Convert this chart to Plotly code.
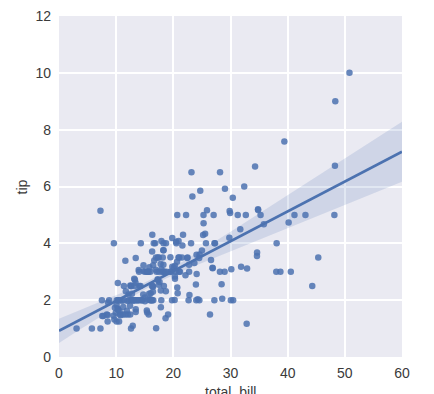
import numpy as np
import plotly.graph_objects as go

total_bill = [16.99,10.34,21.01,23.68,24.59,25.29,8.77,26.88,15.04,14.78,10.27,35.26,15.42,18.43,14.83,21.58,10.33,16.29,16.97,20.65,
17.92,20.29,15.77,39.42,19.82,17.81,13.37,12.69,21.70,19.65,9.55,18.35,15.06,20.69,17.78,24.06,16.31,16.93,18.69,31.27,
16.04,17.46,13.94,9.68,30.40,18.29,22.23,32.40,28.55,18.04,12.54,10.29,34.81,9.94,25.56,19.49,38.01,26.41,11.24,48.27,
20.29,13.81,11.02,18.29,17.59,20.08,16.45,3.07,20.23,15.01,12.02,17.07,26.86,25.28,14.73,10.51,17.92,27.20,22.76,17.29,
19.44,16.66,10.07,32.68,15.98,34.83,13.03,18.28,24.71,21.16,28.97,22.49,5.75,16.32,22.75,40.17,27.28,12.03,21.01,12.46,
11.35,15.38,44.30,22.42,20.92,15.36,20.49,25.21,18.24,14.31,14.00,7.25,38.07,23.95,25.71,17.31,29.93,10.65,12.43,24.08,
11.69,13.42,14.26,15.95,12.48,29.80,8.52,14.52,11.38,22.82,19.08,20.27,11.17,12.26,18.26,8.51,10.33,14.15,16.00,13.16,
17.47,34.30,41.19,27.05,16.43,8.35,18.64,11.87,9.78,7.51,14.07,13.13,17.26,24.55,19.77,29.85,48.17,25.00,13.39,16.49,
21.50,12.66,16.21,13.81,17.51,24.52,20.76,31.71,10.59,10.63,50.81,15.81,7.25,31.85,16.82,32.90,17.89,14.48,9.60,34.63,
34.65,23.33,45.35,23.17,40.55,20.69,20.90,30.46,18.15,23.10,15.69,19.81,28.44,15.48,16.58,7.56,10.34,43.11,13.00,13.51,
18.71,12.74,13.00,16.40,20.53,16.47,26.59,38.73,24.27,12.76,30.06,25.89,48.33,13.27,28.17,12.90,28.15,11.59,7.74,30.14,
12.16,13.42,8.58,15.98,13.42,16.27,10.09,20.45,13.28,22.12,24.01,15.69,11.61,10.77,15.53,10.07,12.60,32.83,35.83,29.03,
27.18,22.67,17.82,18.78]
tip = [1.01,1.66,3.50,3.31,3.61,4.71,2.00,3.12,1.96,3.23,1.71,5.00,1.57,3.00,3.02,3.92,1.67,3.71,3.50,3.35,
4.08,2.75,2.23,7.58,3.18,2.34,2.00,2.00,4.30,3.00,1.45,2.50,3.00,2.45,3.27,3.60,2.00,3.07,2.31,5.00,
2.24,2.54,3.06,1.32,5.60,3.00,5.00,6.00,2.05,3.00,2.50,2.60,5.20,1.56,4.34,3.51,3.00,1.50,1.76,6.73,
3.21,2.00,1.98,3.76,2.64,3.15,2.47,1.00,2.01,2.09,1.97,3.00,3.14,5.00,2.20,1.25,3.08,4.00,3.00,2.71,
3.00,3.40,1.83,5.00,2.03,5.17,2.00,4.00,5.85,3.00,3.00,3.50,1.00,4.30,3.25,4.73,4.00,1.50,3.00,1.50,
2.50,3.00,2.50,3.48,4.08,1.64,4.06,4.29,3.76,4.00,3.00,1.00,4.00,2.55,4.00,3.50,5.07,1.50,1.80,2.92,
2.31,1.68,2.50,2.00,2.52,4.20,1.48,2.00,2.00,2.18,1.50,2.83,1.50,2.00,3.25,1.25,2.00,2.00,2.00,2.75,
3.50,6.70,5.00,5.00,2.30,1.50,1.36,1.63,1.73,2.00,2.50,2.00,2.74,2.00,2.00,5.14,5.00,3.75,2.61,2.00,
3.50,2.50,2.00,2.00,3.00,3.48,2.24,4.50,1.61,2.00,10.00,3.16,5.15,3.18,4.00,3.11,2.00,2.00,4.00,3.55,
3.68,5.65,3.50,6.50,3.00,5.00,3.50,2.00,3.50,4.00,1.50,4.19,2.56,2.02,4.00,1.44,2.00,5.00,2.00,2.00,
4.00,2.01,2.00,2.50,4.00,3.23,3.41,3.00,2.03,2.23,2.00,5.16,9.00,2.50,6.50,1.10,3.00,1.50,1.44,3.09,
2.20,3.48,1.92,3.00,1.58,2.50,2.00,3.00,2.72,2.88,2.00,3.00,3.39,1.47,3.00,1.25,1.00,1.17,4.67,5.92,
2.00,2.00,1.75,3.00]

x_ticks = [0, 10, 20, 30, 40, 50, 60]
y_ticks = [0, 2, 4, 6, 8, 10, 12]

x = np.array(total_bill)
y = np.array(tip)
X = np.column_stack([np.ones_like(x), x])
XtX_inv = np.linalg.inv(X.T @ X)
beta = XtX_inv @ X.T @ y
resid = y - X @ beta
h = np.einsum("ij,jk,ik->i", X, XtX_inv, X)
meat = (X * (resid / (1 - h))[:, None] ** 2).T @ X
cov = XtX_inv @ meat @ XtX_inv

xg = np.linspace(0, 60, 101)
Xg = np.column_stack([np.ones_like(xg), xg])
yg = Xg @ beta
se = np.sqrt(np.einsum("ij,jk,ik->i", Xg, cov, Xg))
z = 2.0
lo = yg - z * se
hi = yg + z * se

blue = "#4C72B0"
txt = "#3a3a3a"
fam = "Liberation Sans, Arial"
fig = go.Figure()
fig.add_trace(go.Scatter(x=np.concatenate([xg, xg[::-1]]), y=np.concatenate([hi, lo[::-1]]),
                         fill="toself", fillcolor="rgba(76,114,176,0.17)", line=dict(width=0),
                         mode="lines", hoverinfo="skip", showlegend=False))
fig.add_trace(go.Scatter(x=total_bill, y=tip, mode="markers",
                         marker=dict(color=blue, size=6.5, opacity=0.85, line=dict(width=0)),
                         showlegend=False))
fig.add_trace(go.Scatter(x=xg, y=yg, mode="lines", line=dict(color=blue, width=2.8), showlegend=False))

axis_common = dict(showgrid=True, gridcolor="white", gridwidth=1.5, zeroline=False, showline=False,
                   ticks="", automargin=False, ticklabeloverflow="allow",
                   tickfont=dict(family=fam, size=14, color=txt))
# the page shows the figure offset by the 8px body margin
W, H = 426, 386
fig.update_layout(
    width=W, height=H,
    margin=dict(l=51, r=32, t=8, b=37),
    paper_bgcolor="white", plot_bgcolor="#EAEAF2",
    font=dict(family=fam, color=txt),
    xaxis=dict(range=[0, 60], tickvals=x_ticks, ticklabelstandoff=6, **axis_common),
    yaxis=dict(range=[0, 12], tickvals=y_ticks, ticklabelstandoff=7, **axis_common),
    annotations=[
        dict(text="total_bill", xref="paper", yref="paper", x=0.5, y=-0.072, xanchor="center", yanchor="top",
             showarrow=False, font=dict(family=fam, size=14, color=txt)),
        dict(text="tip", xref="paper", yref="paper", x=-0.108, y=0.5, xanchor="center", yanchor="middle",
             textangle=-90, showarrow=False, font=dict(family=fam, size=14, color=txt)),
    ],
)
fig.write_html("out.html")
